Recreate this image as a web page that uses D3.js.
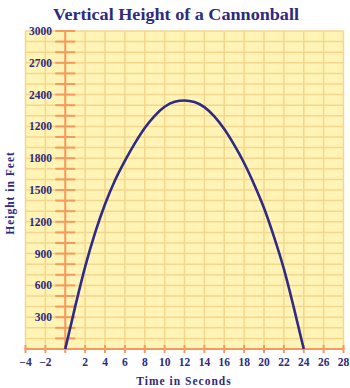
<!DOCTYPE html>
<html>
<head>
<meta charset="utf-8">
<script src="https://cdn.jsdelivr.net/npm/d3@7/dist/d3.min.js"></script>
<style>
  html, body { margin: 0; padding: 0; background: #ffffff; }
  svg { display: block; }
  text { font-family: "Liberation Serif", "DejaVu Serif", serif; font-weight: bold; fill: #2f2a7d; }
</style>
</head>
<body>
<svg id="chart" width="350" height="388"></svg>
<script>
// Time (s) and height (ft) of the cannonball
const times = [0, 1, 2, 3, 4, 5, 6, 7, 8, 9, 10, 11, 12, 13, 14, 15, 16, 17, 18, 19, 20, 21, 22, 23, 24];
const heights = [0, 400, 775, 1095, 1365, 1590, 1775, 1940, 2085, 2200, 2285, 2332, 2345, 2330, 2282, 2195, 2075, 1925, 1755, 1555, 1330, 1060, 755, 390, 0];

// Axis tick values and the labels printed beside them
const xTickValues = [-4, -2, 2, 4, 6, 8, 10, 12, 14, 16, 18, 20, 22, 24, 26, 28];
const xTickLabels = ["\u22124", "\u22122", "2", "4", "6", "8", "10", "12", "14", "16", "18", "20", "22", "24", "26", "28"];
const yTickValues = [300, 600, 900, 1200, 1500, 1800, 2100, 2400, 2700, 3000];
const yTickLabels = ["300", "600", "900", "1200", "1500", "1800", "1200", "2400", "2700", "3000"];

const svg = d3.select("#chart");
const plotLeft = 25.5, plotRight = 343.5, plotTop = 31, plotBottom = 349;

const x = d3.scaleLinear().domain([-4, 28]).range([plotLeft, plotRight]);
const y = d3.scaleLinear().domain([0, 3000]).range([plotBottom, plotTop]);

const gridColor = "#f4d68c";
const axisColor = "#f59a5e";

// Plot background
svg.append("rect")
  .attr("x", plotLeft).attr("y", plotTop)
  .attr("width", plotRight - plotLeft).attr("height", plotBottom - plotTop)
  .attr("fill", "#fff4b5");

// Grid: vertical every 2 s, horizontal every 100 ft
const g = svg.append("g").attr("stroke", gridColor).attr("stroke-width", 1.5);
g.selectAll("line.v").data(d3.range(-4, 29, 2)).join("line")
  .attr("class", "v")
  .attr("x1", d => x(d)).attr("x2", d => x(d))
  .attr("y1", plotTop).attr("y2", plotBottom);
g.selectAll("line.h").data(d3.range(0, 3001, 100)).join("line")
  .attr("class", "h")
  .attr("x1", plotLeft).attr("x2", plotRight)
  .attr("y1", d => y(d)).attr("y2", d => y(d));

// Y axis at t = 0 with ticks every 100 ft
const ya = svg.append("g").attr("stroke", axisColor).attr("stroke-width", 2);
ya.append("line").attr("x1", x(0)).attr("x2", x(0)).attr("y1", plotTop).attr("y2", plotBottom);
ya.selectAll("line.t").data(d3.range(100, 3001, 100)).join("line")
  .attr("class", "t")
  .attr("x1", x(0) - 10).attr("x2", x(0) + 10)
  .attr("y1", d => y(d)).attr("y2", d => y(d));

// X axis with ticks every 2 s
const xa = svg.append("g").attr("stroke", axisColor).attr("stroke-width", 2);
xa.append("line").attr("x1", plotLeft - 1).attr("x2", plotRight + 1).attr("y1", plotBottom).attr("y2", plotBottom);
xa.selectAll("line.t").data(d3.range(-4, 29, 2)).join("line")
  .attr("class", "t")
  .attr("x1", d => x(d)).attr("x2", d => x(d))
  .attr("y1", plotBottom - 4).attr("y2", plotBottom + 4);

// Tick labels
svg.append("g").selectAll("text").data(yTickValues).join("text")
  .attr("x", 52).attr("y", d => y(d)).attr("dy", "0.35em")
  .attr("text-anchor", "end").attr("font-size", 11.5)
  .text((d, i) => yTickLabels[i]);

svg.append("g").selectAll("text").data(xTickValues).join("text")
  .attr("x", d => x(d)).attr("y", 366)
  .attr("text-anchor", "middle").attr("font-size", 11.5)
  .text((d, i) => xTickLabels[i]);

// Trajectory
const line = d3.line()
  .x((d, i) => x(times[i]))
  .y(d => y(d))
  .curve(d3.curveMonotoneX);
svg.append("path")
  .datum(heights)
  .attr("d", line)
  .attr("fill", "none")
  .attr("stroke", "#2f2a85")
  .attr("stroke-width", 2.6);

// Titles
svg.append("text")
  .attr("x", 176).attr("y", 20)
  .attr("text-anchor", "middle").attr("font-size", 16.5)
  .attr("textLength", 246).attr("lengthAdjust", "spacingAndGlyphs")
  .text("Vertical Height of a Cannonball");

svg.append("text")
  .attr("transform", "translate(14,193) rotate(-90)")
  .attr("text-anchor", "middle").attr("font-size", 11.5)
  .attr("letter-spacing", 1)
  .text("Height in Feet");

svg.append("text")
  .attr("x", 184).attr("y", 385)
  .attr("text-anchor", "middle").attr("font-size", 11.5)
  .attr("letter-spacing", 1)
  .text("Time in Seconds");
</script>
</body>
</html>
